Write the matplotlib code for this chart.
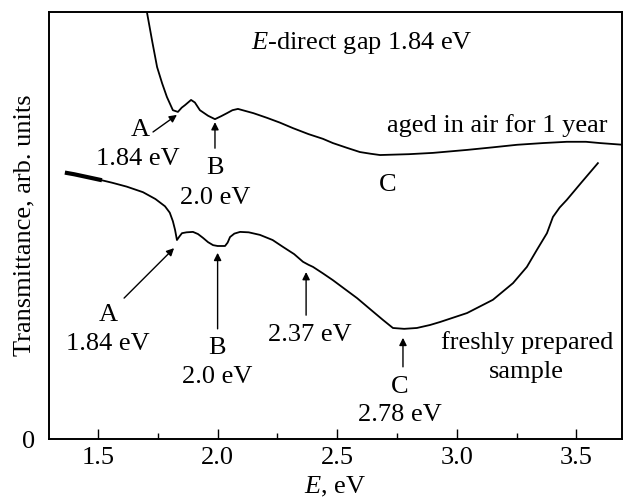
import matplotlib
matplotlib.use('Agg')
import matplotlib.pyplot as plt
from matplotlib.ticker import MultipleLocator, FormatStrFormatter

plt.rcParams['font.family'] = ['Liberation Serif', 'DejaVu Serif']
plt.rcParams['mathtext.fontset'] = 'custom'
plt.rcParams['mathtext.rm'] = 'Liberation Serif'
plt.rcParams['mathtext.it'] = 'Liberation Serif:italic'

# aged in air for 1 year
aged_e = [1.705, 1.727, 1.747, 1.768, 1.788, 1.813, 1.834, 1.850, 1.864, 1.889,
          1.905, 1.926, 1.960, 1.989, 2.015, 2.039, 2.062, 2.085, 2.150, 2.207,
          2.260, 2.315, 2.380, 2.440, 2.482, 2.540, 2.595, 2.640, 2.679, 2.800,
          2.900, 3.043, 3.150, 3.252, 3.360, 3.460, 3.540, 3.599, 3.695]
aged_t = [0.998, 0.930, 0.871, 0.833, 0.801, 0.770, 0.766, 0.776, 0.782, 0.794,
          0.788, 0.770, 0.757, 0.749, 0.756, 0.763, 0.770, 0.773, 0.763, 0.752,
          0.741, 0.728, 0.714, 0.703, 0.693, 0.682, 0.672, 0.668, 0.665, 0.667,
          0.670, 0.677, 0.683, 0.689, 0.693, 0.696, 0.696, 0.693, 0.689]

# freshly prepared sample
fresh_e = [1.370, 1.400, 1.450, 1.508, 1.560, 1.620, 1.688, 1.740, 1.780, 1.800,
           1.813, 1.822, 1.830, 1.840, 1.851, 1.870, 1.897, 1.918, 1.939, 1.960,
           1.981, 2.000, 2.031, 2.042, 2.052, 2.070, 2.094, 2.130, 2.177, 2.230,
           2.273, 2.320, 2.357, 2.380, 2.399, 2.440, 2.482, 2.530, 2.583, 2.640,
           2.691, 2.733, 2.780, 2.833, 2.888, 2.930, 3.043, 3.151, 3.235, 3.293,
           3.335, 3.377, 3.402, 3.430, 3.460, 3.520, 3.590]
fresh_t = [0.623, 0.620, 0.614, 0.607, 0.600, 0.591, 0.578, 0.562, 0.545, 0.530,
           0.510, 0.490, 0.466, 0.474, 0.482, 0.484, 0.485, 0.480, 0.471, 0.461,
           0.454, 0.452, 0.452, 0.460, 0.473, 0.481, 0.485, 0.484, 0.478, 0.466,
           0.450, 0.433, 0.415, 0.408, 0.403, 0.388, 0.372, 0.352, 0.330, 0.303,
           0.279, 0.260, 0.258, 0.260, 0.267, 0.274, 0.295, 0.326, 0.365, 0.403,
           0.443, 0.482, 0.520, 0.542, 0.560, 0.600, 0.646]

fs = 19

fig = plt.figure(figsize=(6.24, 5.03), dpi=100)
ax = fig.add_axes([0.0785, 0.1272, 0.918, 0.849])

ax.plot(aged_e, aged_t, color='black', lw=1.3)
ax.plot(fresh_e, fresh_t, color='black', lw=1.3)
# noisy start of the fresh curve looks thicker
ax.plot(fresh_e[:4], fresh_t[:4], color='black', lw=3.0)

ax.set_xlim(1.295, 3.69)
ax.set_ylim(0, 1)
ax.xaxis.set_major_locator(MultipleLocator(0.5))
ax.xaxis.set_minor_locator(MultipleLocator(0.25))
ax.xaxis.set_major_formatter(FormatStrFormatter('%.1f'))
ax.set_yticks([0])
ax.set_yticklabels(['0'], fontsize=fs)
ax.tick_params(axis='x', which='major', direction='in', length=7, width=1, labelsize=fs, pad=6)
ax.tick_params(axis='x', which='minor', direction='in', length=4, width=1)
ax.tick_params(axis='y', length=0, pad=10)
for s in ax.spines.values():
    s.set_linewidth(1.4)

ax.set_xlabel(r'$\mathit{E}$, eV', fontsize=fs)
ax.xaxis.set_label_coords(0.5, -0.085)
ax.set_ylabel('Transmittance, arb. units', fontsize=fs)
ax.yaxis.set_label_coords(-0.024, 0.5)

arrow = dict(arrowstyle='-|>', color='black', lw=1.0, mutation_scale=11, shrinkA=0, shrinkB=0)
kw = dict(ha='center', va='center', fontsize=fs)

ax.text(2.604, 0.927, r'$\mathit{E}$-direct gap 1.84 eV', **kw)
ax.text(3.168, 0.735, 'aged in air for 1 year', **kw)

# aged curve marks
ax.annotate('', xy=(1.830, 0.759), xytext=(1.730, 0.719), arrowprops=arrow)
ax.text(1.676, 0.724, 'A', **kw)
ax.text(1.667, 0.656, '1.84 eV', **kw)
ax.annotate('', xy=(1.989, 0.742), xytext=(1.989, 0.681), arrowprops=arrow)
ax.text(1.989, 0.635, 'B', **kw)
ax.text(1.989, 0.564, '2.0 eV', **kw)
ax.text(2.712, 0.595, 'C', **kw)

# fresh curve marks
ax.annotate('', xy=(1.818, 0.447), xytext=(1.609, 0.330), arrowprops=arrow)
ax.text(1.542, 0.290, 'A', **kw)
ax.text(1.542, 0.222, '1.84 eV', **kw)
ax.annotate('', xy=(2.0, 0.436), xytext=(2.0, 0.258), arrowprops=arrow)
ax.text(1.997, 0.213, 'B', **kw)
ax.text(1.997, 0.145, '2.0 eV', **kw)
ax.annotate('', xy=(2.37, 0.391), xytext=(2.37, 0.290), arrowprops=arrow)
ax.text(2.386, 0.244, '2.37 eV', **kw)
ax.annotate('', xy=(2.775, 0.237), xytext=(2.775, 0.169), arrowprops=arrow)
ax.text(2.763, 0.122, 'C', **kw)
ax.text(2.763, 0.056, '2.78 eV', **kw)
ax.text(3.293, 0.227, 'freshly prepared', **kw)
ax.text(3.293, 0.157, 'sample', **kw)

fig.savefig('out.png', dpi=100)
